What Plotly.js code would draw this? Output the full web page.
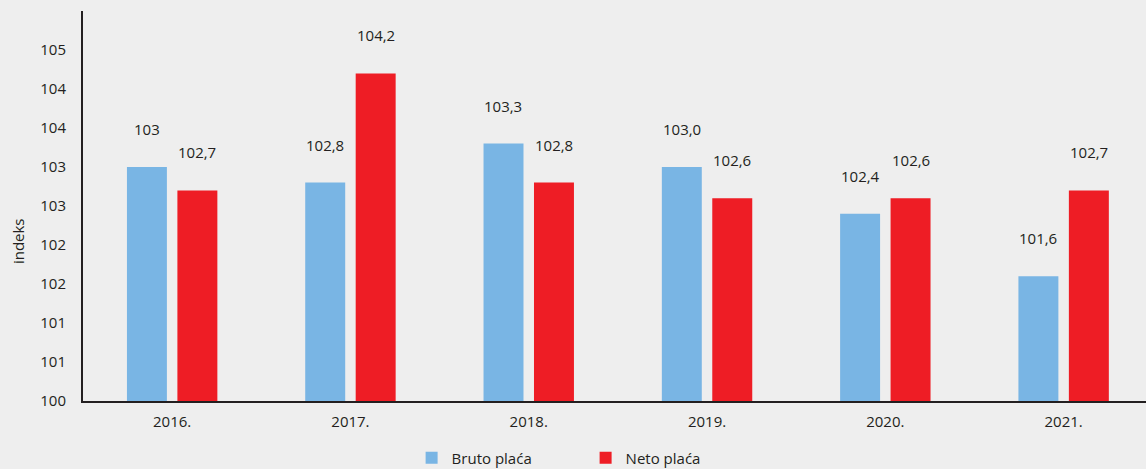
<!DOCTYPE html>
<html>
<head>
<meta charset="utf-8">
<script src="https://cdn.plot.ly/plotly-3.0.1.min.js"></script>
<style>
  html, body { margin: 0; padding: 0; background: #eeeeee; }
  #chart { width: 1146px; height: 469px; }
</style>
</head>
<body>
<div id="chart"></div>
<script>
const years = ["2016.", "2017.", "2018.", "2019.", "2020.", "2021."];
const bruto = [103.0, 102.8, 103.3, 103.0, 102.4, 101.6];
const neto = [102.7, 104.2, 102.8, 102.6, 102.6, 102.7];
const brutoLabels = ["103", "102,8", "103,3", "103,0", "102,4", "101,6"];
const netoLabels = ["102,7", "104,2", "102,8", "102,6", "102,6", "102,7"];
const yTickVals = [100, 100.5, 101, 101.5, 102, 102.5, 103, 103.5, 104, 104.5];
const yTickText = ["100", "101", "101", "102", "102", "103", "103", "104", "104", "105"];
const yTitle = "indeks";

const textColor = "#231f20";
const blue = "#79b5e4";
const red = "#ee1d25";

const traces = [
  { type: "bar", name: "Bruto plaća", x: years, y: bruto, marker: { color: blue }, hoverinfo: "none" },
  { type: "bar", name: "Neto plaća", x: years, y: neto, marker: { color: red }, hoverinfo: "none" }
];

const annotations = [];
years.forEach((yr, i) => {
  annotations.push({ x: i, y: bruto[i], xref: "x", yref: "y", text: brutoLabels[i], showarrow: false,
    xshift: -25.25, yshift: 38, font: { family: "Open Sans", size: 15, color: textColor } });
  annotations.push({ x: i, y: neto[i], xref: "x", yref: "y", text: netoLabels[i], showarrow: false,
    xshift: 25.25, yshift: 38, font: { family: "Open Sans", size: 15, color: textColor } });
});
annotations.push({ x: 0, y: 0.41, xref: "paper", yref: "paper", xanchor: "center", yanchor: "middle",
  xshift: -65, text: yTitle, textangle: -90,
  showarrow: false, font: { family: "Open Sans", size: 15, color: textColor } });

const layout = {
  width: 1146, height: 469,
  paper_bgcolor: "#eeeeee", plot_bgcolor: "#eeeeee",
  margin: { l: 83, r: 0, t: 11, b: 68 },
  barmode: "group", bargap: 0.434, bargroupgap: 0.208,
  font: { family: "Open Sans", color: textColor, size: 14 },
  xaxis: {
    type: "category", range: [-0.5, 5.462], showgrid: false, zeroline: false,
    showline: true, linecolor: textColor, linewidth: 2, ticks: "", ticklabelstandoff: 6,
    tickfont: { family: "Open Sans", size: 15, color: textColor }, fixedrange: true
  },
  yaxis: {
    range: [100, 105], tickvals: yTickVals, ticktext: yTickText, showgrid: false, zeroline: false,
    showline: true, linecolor: textColor, linewidth: 2, ticks: "", ticklabelstandoff: 12,
    tickfont: { family: "Open Sans", size: 15, color: textColor },
    fixedrange: true
  },
  showlegend: true,
  legend: {
    orientation: "h", x: 0.511, xanchor: "center", xref: "container", y: 0.0235, yanchor: "middle", yref: "container",
    font: { family: "Open Sans", size: 15, color: textColor }, entrywidth: 129, bgcolor: "rgba(0,0,0,0)",
    itemclick: false, itemdoubleclick: false
  },
  annotations: annotations
};

Plotly.newPlot("chart", traces, layout, { displayModeBar: false, staticPlot: true });
</script>
</body>
</html>
